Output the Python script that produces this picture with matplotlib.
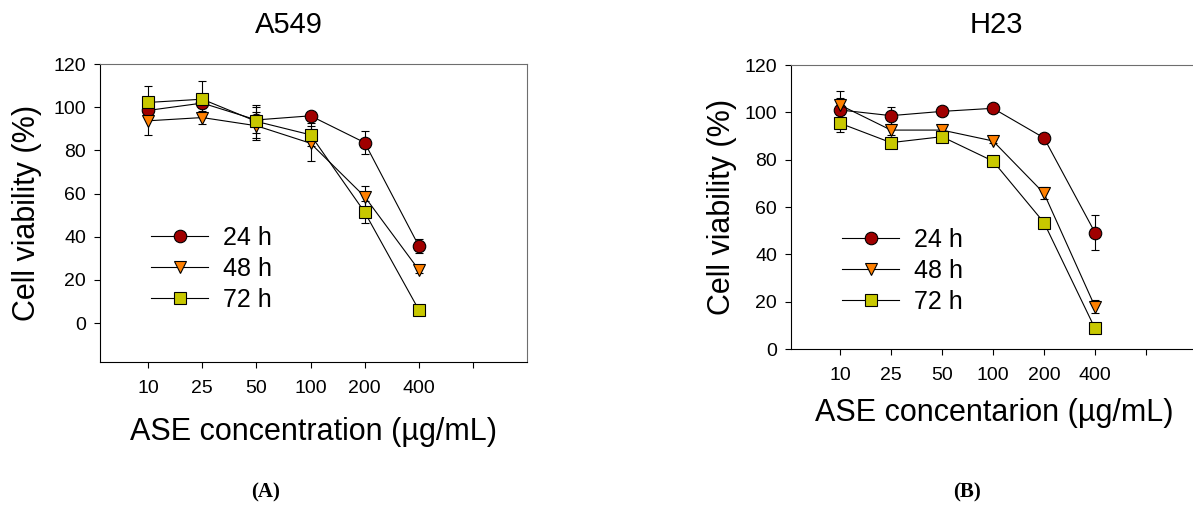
import matplotlib
matplotlib.use('Agg')
import matplotlib.pyplot as plt

plt.rcParams['font.family'] = ['Liberation Sans', 'DejaVu Sans']

# doses on a categorical axis (last tick left blank)
doses = ['10', '25', '50', '100', '200', '400']
tick_labels = doses + ['']
times = ['24 h', '48 h', '72 h']

# A549 viability (%) and SD
a549_24 = [98.5, 101.9, 94.1, 96.0, 83.6, 35.8]
a549_24_sd = [2.5, 2.5, 6.0, 2.0, 5.2, 3.2]
a549_48 = [93.7, 95.2, 91.4, 83.3, 58.6, 24.7]
a549_48_sd = [6.8, 3.0, 6.5, 8.0, 5.0, 1.5]
a549_72 = [102.2, 103.7, 93.4, 87.2, 51.4, 6.2]
a549_72_sd = [7.4, 8.3, 7.5, 5.4, 5.1, 1.0]

# H23 viability (%) and SD
h23_24 = [101.0, 98.6, 100.4, 101.7, 89.2, 49.2]
h23_24_sd = [5.0, 3.5, 1.0, 1.0, 1.0, 7.4]
h23_48 = [103.1, 92.5, 92.5, 87.9, 65.8, 17.9]
h23_48_sd = [6.0, 2.0, 1.5, 1.0, 2.5, 2.8]
h23_72 = [95.4, 87.2, 89.7, 79.4, 53.4, 8.7]
h23_72_sd = [3.5, 1.5, 1.5, 1.0, 1.0, 1.0]

styles = [
    dict(marker='o', mfc='#a00000', ms=9),
    dict(marker='v', mfc='#ff8000', ms=9),
    dict(marker='s', mfc='#c8c800', ms=8),
]

W, H = 1193, 511
fig = plt.figure(figsize=(W / 100, H / 100), dpi=100)


def panel(rect, series, ylim, xlim, xlabel, label_y, ylabel_x, legend_xy):
    ax = fig.add_axes(rect)
    x = list(range(1, len(doses) + 1))
    lines = []
    for (vals, sd), st, name in zip(series, styles, times):
        ax.errorbar(x, vals, yerr=sd, fmt='none', ecolor='black',
                    elinewidth=0.8, capsize=3, capthick=0.8, zorder=2)
        ln, = ax.plot(x, vals, color='black', lw=0.8, mec='black', mew=0.8,
                      label=name, zorder=3, **st)
        lines.append(ln)
    ax.set_xlim(*xlim)
    ax.set_ylim(*ylim)
    ax.set_xticks(range(1, 8))
    ax.set_xticklabels(tick_labels)
    ax.set_yticks(range(0, 121, 20))
    ax.tick_params(direction='out', length=4, width=0.8, labelsize=14)
    ax.tick_params(axis='x', pad=9)
    ax.tick_params(axis='y', pad=6)
    for s in ['top', 'right']:
        ax.spines[s].set_color('#6e6e6e')
    for s in ['left', 'bottom']:
        ax.spines[s].set_color('black')
    ax.set_xlabel(xlabel, fontsize=22, va='center')
    ax.xaxis.set_label_coords(0.5, label_y)
    ax.set_ylabel('Cell viability (%)', fontsize=22, va='center')
    ax.yaxis.set_label_coords(ylabel_x, 0.5)
    ax.legend(handles=lines, loc='upper left', frameon=False, fontsize=18,
              handlelength=2.28, handletextpad=0.6, labelspacing=0.28,
              borderpad=0, borderaxespad=0,
              bbox_to_anchor=legend_xy, bbox_transform=fig.transFigure)
    return ax


# A549
panel([100 / W, 1 - 362 / H, 427 / W, 298 / H],
      [(a549_24, a549_24_sd), (a549_48, a549_48_sd), (a549_72, a549_72_sd)],
      (-18, 120), (0.11, 8.0), 'ASE concentration (\u00b5g/mL)',
      -70 / 298, -73 / 427, (151 / W, 1 - 226 / H))

# H23
panel([791 / W, 1 - 349 / H, 406 / W, 284 / H],
      [(h23_24, h23_24_sd), (h23_48, h23_48_sd), (h23_72, h23_72_sd)],
      (0, 120), (0.04, 8.0), 'ASE concentarion (\u00b5g/mL)',
      -64 / 284, -69 / 406, (842 / W, 1 - 228 / H))

fig.text(289 / W, 1 - 25 / H, 'A549', fontsize=21, ha='center', va='center')
fig.text(996 / W, 1 - 25 / H, 'H23', fontsize=21, ha='center', va='center')

fig.text(266 / W, 1 - 492 / H, '(A)', fontsize=15, fontweight='bold',
         family='Liberation Serif', ha='center', va='center')
fig.text(967 / W, 1 - 492 / H, '(B)', fontsize=15, fontweight='bold',
         family='Liberation Serif', ha='center', va='center')

fig.savefig('out.png', dpi=100)
